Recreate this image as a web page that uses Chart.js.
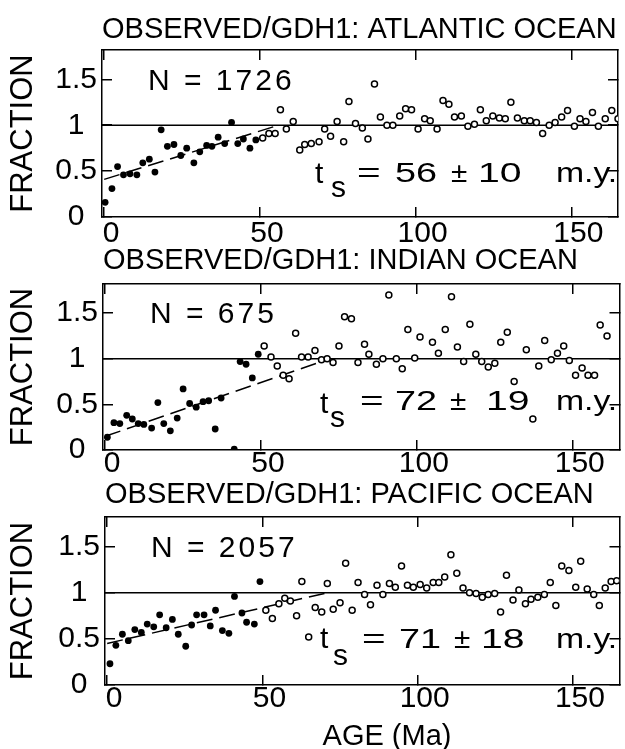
<!DOCTYPE html>
<html>
<head>
<meta charset="utf-8">
<script src="https://cdn.jsdelivr.net/npm/chart.js@4/dist/chart.umd.min.js"></script>
<style>
html, body { margin: 0; padding: 0; background: #fff; }
#wrap { position: relative; width: 625px; height: 749px; overflow: hidden; background: #fff; }
canvas { position: absolute; left: 0; }
</style>
</head>
<body>
<div id="wrap">
  <canvas id="c0" width="625" height="260" style="top:0px"></canvas>
  <canvas id="c1" width="625" height="258" style="top:232px"></canvas>
  <canvas id="c2" width="625" height="284" style="top:465px"></canvas>
</div>
<script>
// ---------- axes ----------
const AGE_TICKS = [0, 50, 100, 150];
const AGE_TICK_LABELS = ['0', '50', '100', '150'];
const FRAC_TICKS = [0, 0.5, 1, 1.5];
const FRAC_TICK_LABELS = ['0', '0.5', '1', '1.5'];
const AGE_RANGE = [-0.7, 165];
const FRAC_RANGE = [0, 1.82];
const REF_FRAC = [1, 1];

// ---------- text ----------
const titles = ['OBSERVED/GDH1: ATLANTIC OCEAN', 'OBSERVED/GDH1: INDIAN OCEAN', 'OBSERVED/GDH1: PACIFIC OCEAN'];
const nLabels = ['N = 1726', 'N = 675', 'N = 2057'];
const tsValues = ['56', '72', '71'];
const tsErrors = ['10', '19', '18'];
const yTitle = 'FRACTION';
const xTitle = 'AGE (Ma)';

// ---------- Atlantic ----------
const atlAgeFilled = [0.3, 2.5, 4.3, 6.2, 8.3, 10.5, 12.4, 14.5, 16.3, 18.3, 20.3, 22.4, 24.6, 26.5, 28.8, 30.7, 32.9, 34.6, 36.6, 38.7, 40.9, 42.9, 44.7, 46.8, 48.7];
const atlFracFilled = [0.16, 0.31, 0.55, 0.46, 0.47, 0.46, 0.59, 0.63, 0.49, 0.95, 0.77, 0.79, 0.67, 0.75, 0.59, 0.71, 0.78, 0.77, 0.87, 0.80, 1.03, 0.80, 0.85, 0.75, 0.84];
const atlAgeOpen = [50.9, 52.9, 54.9, 56.6, 58.5, 60.7, 62.8, 64.4, 66.5, 69.0, 70.8, 72.7, 74.8, 76.9, 78.6, 80.7, 82.9, 84.7, 86.8, 88.7, 90.8, 92.7, 94.9, 96.8, 98.7, 100.8, 102.9, 104.7, 106.9, 108.8, 110.7, 112.5, 114.7, 116.8, 118.9, 120.8, 122.7, 124.8, 126.9, 128.8, 130.6, 132.7, 134.9, 136.8, 138.8, 140.8, 142.9, 144.8, 146.9, 148.8, 151.0, 152.8, 154.7, 156.8, 158.7, 160.9, 163.0, 165.0];
const atlFracOpen = [0.86, 0.91, 0.91, 1.17, 0.96, 1.04, 0.73, 0.79, 0.80, 0.82, 0.96, 0.88, 1.04, 0.82, 1.26, 1.02, 0.97, 0.85, 1.45, 1.09, 1.00, 1.00, 1.10, 1.18, 1.17, 0.96, 1.07, 1.05, 0.96, 1.27, 1.23, 1.09, 1.10, 0.99, 1.01, 1.17, 1.05, 1.10, 1.08, 1.07, 1.25, 1.08, 1.05, 1.05, 1.03, 0.91, 1.00, 1.03, 1.09, 1.16, 0.99, 1.07, 1.04, 1.14, 0.99, 1.07, 1.16, 1.07];
const atlFitAge = [0, 56];
const atlFitFrac = [0.41, 1.0];

// ---------- Indian ----------
const indAgeFilled = [0.7, 2.8, 4.7, 6.9, 8.7, 10.6, 12.4, 14.9, 16.9, 18.8, 20.9, 23.1, 25.0, 27.1, 29.2, 31.4, 33.2, 35.3, 37.2, 41.4, 43.3, 45.2, 47.2, 49.1];
const indFracFilled = [0.14, 0.30, 0.29, 0.38, 0.34, 0.29, 0.28, 0.24, 0.52, 0.29, 0.21, 0.35, 0.67, 0.51, 0.47, 0.53, 0.54, 0.23, 0.57, 0.01, 0.97, 0.94, 0.79, 1.05];
const indAgeOpen = [51.0, 53.2, 55.2, 57.1, 59.0, 61.1, 63.0, 65.1, 67.3, 69.4, 71.2, 73.1, 75.0, 76.8, 79.0, 81.1, 83.2, 84.6, 87.0, 89.1, 91.0, 93.4, 95.3, 97.1, 99.3, 101.0, 105.0, 106.9, 109.1, 111.1, 113.0, 115.0, 117.0, 118.9, 120.8, 122.9, 125.0, 126.9, 129.0, 131.2, 135.1, 137.2, 139.1, 141.0, 143.1, 145.1, 147.1, 148.9, 150.9, 153.0, 154.9, 157.0, 158.8, 161.0];
const indFracOpen = [1.14, 1.02, 0.92, 0.82, 0.78, 1.28, 1.02, 1.02, 1.09, 0.99, 1.00, 0.96, 1.14, 1.46, 1.44, 0.96, 1.16, 1.05, 0.94, 1.00, 1.70, 1.00, 0.89, 1.32, 1.01, 1.24, 1.18, 1.06, 1.32, 1.68, 1.13, 0.97, 1.38, 1.05, 0.97, 0.91, 0.95, 1.18, 1.29, 0.75, 1.10, 0.34, 0.92, 1.20, 0.99, 1.06, 1.14, 0.98, 0.82, 0.90, 0.82, 0.82, 1.37, 1.25];
const indFitAge = [0, 72];
const indFitFrac = [0.15, 1.0];

// ---------- Pacific ----------
const pacAgeFilled = [0.9, 2.8, 4.9, 6.8, 8.9, 11.0, 12.9, 15.0, 16.9, 19.0, 21.0, 22.9, 25.3, 27.2, 28.8, 31.2, 33.2, 34.9, 37.1, 39.2, 41.0, 43.4, 44.9, 47.4, 49.2];
const pacFracFilled = [0.23, 0.43, 0.55, 0.48, 0.60, 0.57, 0.66, 0.63, 0.76, 0.62, 0.71, 0.55, 0.42, 0.65, 0.76, 0.76, 0.64, 0.81, 0.59, 0.56, 0.96, 0.78, 0.68, 0.66, 1.12];
const pacAgeOpen = [51.1, 53.2, 55.3, 57.2, 59.0, 61.0, 62.7, 64.9, 67.0, 69.1, 70.9, 72.8, 75.0, 76.8, 78.9, 80.8, 82.9, 84.8, 86.9, 88.8, 90.9, 92.8, 94.8, 96.7, 98.6, 100.8, 102.9, 105.0, 106.8, 108.7, 110.7, 112.6, 114.6, 116.7, 118.8, 120.8, 122.7, 124.8, 126.7, 128.6, 130.7, 132.6, 134.7, 136.5, 138.7, 140.8, 142.7, 144.5, 146.4, 148.7, 150.9, 152.5, 154.6, 156.7, 158.5, 160.4, 162.3, 164.1];
const pacFracOpen = [0.81, 0.72, 0.88, 0.94, 0.91, 0.75, 1.12, 0.52, 0.84, 0.79, 1.10, 0.82, 0.89, 1.32, 0.81, 1.11, 0.98, 0.87, 1.08, 0.98, 1.10, 1.06, 1.29, 1.08, 1.06, 1.09, 1.05, 1.11, 1.11, 1.17, 1.41, 1.21, 1.05, 1.00, 0.99, 0.95, 0.98, 0.99, 0.79, 1.19, 0.92, 1.03, 0.88, 0.93, 0.95, 0.98, 1.11, 0.86, 1.29, 1.24, 1.06, 1.34, 1.04, 0.98, 0.86, 1.05, 1.12, 1.13];
const pacFitAge = [0, 71];
const pacFitFrac = [0.45, 1.0];

const panelData = [
  { fA: atlAgeFilled, fF: atlFracFilled, oA: atlAgeOpen, oF: atlFracOpen, lA: atlFitAge, lF: atlFitFrac },
  { fA: indAgeFilled, fF: indFracFilled, oA: indAgeOpen, oF: indFracOpen, lA: indFitAge, lF: indFitFrac },
  { fA: pacAgeFilled, fF: pacFracFilled, oA: pacAgeOpen, oF: pacFracOpen, lA: pacFitAge, lF: pacFitFrac }
];

// ---------- layout (canvas-local pixels) ----------
const geom = [
  { h: 260, L: 102, R: 618, T: 50, B: 217, xPad: 9, titleDy: -12, nX: 148, nDy: 40, tX: 315, sX: 331, tDy: 133, sDy: 147, txtDy: 132, eqX: 357, numX: 395, pmX: 451, errX: 478, myX: 556 },
  { h: 258, L: 103, R: 620, T: 52, B: 218, xPad: 6, titleDy: -15, nX: 150, nDy: 39, tX: 320, sX: 330, tDy: 129, sDy: 143, txtDy: 126, eqX: 360, numX: 395, pmX: 450, errX: 486, myX: 556 },
  { h: 284, L: 105, R: 622, T: 52, B: 220, xPad: 6, titleDy: -14, nX: 151, nDy: 40, tX: 320, sX: 333, tDy: 131, sDy: 148, txtDy: 131, eqX: 362, numX: 399, pmX: 454, errX: 481, myX: 556 }
];

const FONT = '"Liberation Sans", Arial, sans-serif';
Chart.defaults.font.family = FONT;
Chart.defaults.color = '#000';

function pts(xs, ys) { return xs.map((x, i) => ({ x: x, y: ys[i] })); }

function annotPlugin(i) {
  const g = geom[i];
  return {
    id: 'annot' + i,
    afterDraw(chart) {
      const ctx = chart.ctx;
      const a = chart.chartArea;
      ctx.save();
      ctx.fillStyle = '#000';
      ctx.textAlign = 'left';
      ctx.textBaseline = 'alphabetic';
      ctx.font = '29px ' + FONT;
      ctx.fillText(titles[i], a.left, a.top + g.titleDy);
      ctx.font = '30px ' + FONT;
      ctx.letterSpacing = '3px';
      ctx.fillText(nLabels[i], g.nX, a.top + g.nDy);
      ctx.letterSpacing = '0px';
      ctx.fillText('t', g.tX, a.top + g.tDy);
      ctx.fillText('s', g.sX, a.top + g.sDy);
      const stretch = (txt, x, y, sx) => {
        ctx.save(); ctx.translate(x, y); ctx.scale(sx, 1); ctx.fillText(txt, 0, 0); ctx.restore();
      };
      ctx.font = '27px ' + FONT;
      const y = a.top + g.txtDy;
      stretch('=', g.eqX, y, 1.5);
      stretch(tsValues[i], g.numX, y, 1.4);
      stretch('\u00B1', g.pmX, y, 1.1);
      stretch(tsErrors[i], g.errX, y, 1.45);
      stretch('m.y.', g.myX, y, 1.25);
      if (i === 2) {
        ctx.font = '29px ' + FONT;
        ctx.textAlign = 'center';
        ctx.fillText(xTitle, 387, 280);
      }
      ctx.restore();
    }
  };
}

function xAxis(pos, g) {
  return {
    type: 'linear', position: pos, min: AGE_RANGE[0], max: AGE_RANGE[1],
    afterBuildTicks: s => { s.ticks = AGE_TICKS.map(v => ({ value: v })); },
    afterFit: s => { s.height = pos === 'bottom' ? g.h - g.B : 0; },
    ticks: {
      display: pos === 'bottom', autoSkip: false, maxRotation: 0, minRotation: 0,
      padding: g.xPad, labelOffset: 7, color: '#000', font: { size: 30 },
      callback: v => AGE_TICK_LABELS[AGE_TICKS.indexOf(v)]
    },
    grid: { drawOnChartArea: false, drawTicks: true, tickLength: -10, color: '#000', lineWidth: 1.5 },
    border: { display: true, color: '#000', width: 1.5 }
  };
}

function yAxis(pos, g) {
  return {
    type: 'linear', position: pos, min: FRAC_RANGE[0], max: FRAC_RANGE[1],
    afterBuildTicks: s => { s.ticks = FRAC_TICKS.map(v => ({ value: v })); },
    afterFit: s => { s.width = pos === 'left' ? g.L : 0; },
    ticks: {
      display: pos === 'left', autoSkip: false, padding: 15, crossAlign: 'center',
      color: '#000', font: { size: 30 },
      callback: v => FRAC_TICK_LABELS[FRAC_TICKS.indexOf(v)]
    },
    title: { display: pos === 'left', text: yTitle, color: '#000', font: { size: 31 }, padding: { top: 5, bottom: 0 } },
    grid: { drawOnChartArea: false, drawTicks: true, tickLength: -10, color: '#000', lineWidth: 1.5 },
    border: { display: true, color: '#000', width: 1.5 }
  };
}

panelData.forEach((d, i) => {
  const g = geom[i];
  new Chart(document.getElementById('c' + i), {
    type: 'scatter',
    data: {
      datasets: [
        { data: pts(d.fA, d.fF), pointRadius: 3.4, pointBackgroundColor: '#000', pointBorderWidth: 0, showLine: false, order: 1 },
        { data: pts(d.oA, d.oF), pointRadius: 3, pointBackgroundColor: '#fff', pointBorderColor: '#000', pointBorderWidth: 1.5, showLine: false, order: 2 },
        { data: pts(d.lA, d.lF), showLine: true, borderColor: '#000', borderWidth: 1.5, borderDash: [16, 7], pointRadius: 0, order: 3 },
        { data: pts(AGE_RANGE, REF_FRAC), showLine: true, borderColor: '#000', borderWidth: 1.5, pointRadius: 0, order: 4 }
      ]
    },
    options: {
      responsive: false, animation: false, devicePixelRatio: 1,
      layout: { padding: { left: 0, right: 625 - g.R, top: g.T, bottom: 0 } },
      plugins: { legend: { display: false }, tooltip: { enabled: false }, title: { display: false } },
      scales: {
        x: xAxis('bottom', g),
        x2: xAxis('top', g),
        y: yAxis('left', g),
        y2: yAxis('right', g)
      }
    },
    plugins: [annotPlugin(i)]
  });
});
</script>
</body>
</html>
